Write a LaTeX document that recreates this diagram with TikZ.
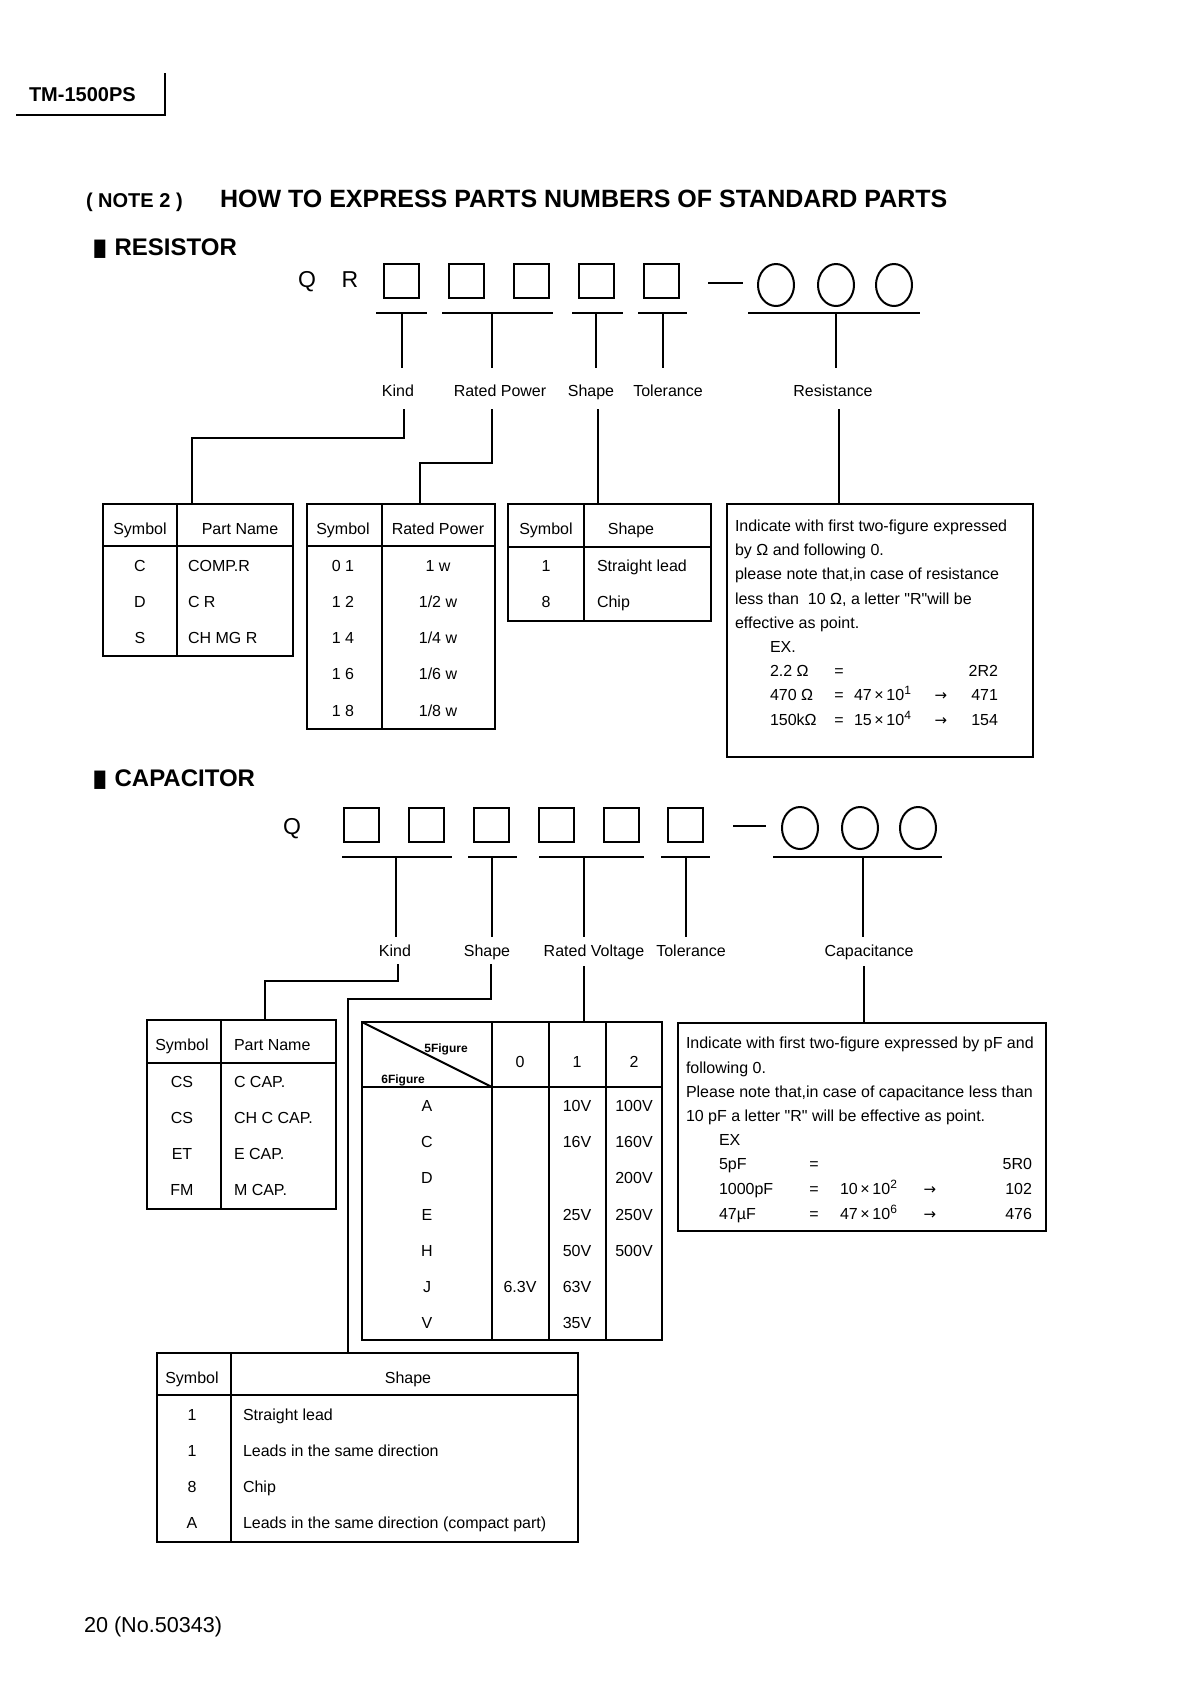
\documentclass[tikz,border=0pt]{standalone}
\usepackage{fontspec}
\usepackage{graphicx}
\setmainfont{Liberation Sans}
\newfontfamily\dvsans{DejaVu Sans}
\usetikzlibrary{shapes.geometric}
\newcommand{\arr}{{\dvsans\fontsize{7.5}{9}\selectfont →}}
\newcommand{\tms}{\,×\,}
\begin{document}
\begin{tikzpicture}[x=0.5pt,y=-0.5pt,
  every node/.style={inner sep=0pt,outer sep=0pt},
  txt/.style={font=\fontsize{8}{9.6}\selectfont},
  lc/.style={txt,anchor=mid},
  ll/.style={txt,anchor=mid west},
  lr/.style={txt,anchor=mid east},
  fig/.style={font=\bfseries\fontsize{6}{7}\selectfont,anchor=mid},
  codebox/.style={draw,line width=1pt,minimum width=17.5pt,minimum height=17pt},
  codecirc/.style={draw,ellipse,line width=1pt,minimum width=18pt,minimum height=21pt},
  codeletter/.style={font=\fontsize{11.5}{13}\selectfont,anchor=mid},
  tbl/.style={draw,line width=1.2pt,anchor=north west},
  rule/.style={line width=1.2pt},
  conn/.style={line width=1pt},
  head/.style={font=\bfseries\fontsize{12}{14}\selectfont,anchor=mid west}
]
\useasboundingbox (0,0) rectangle (1191,1683);

% ---------- page header ----------
\node[font=\bfseries\fontsize{10}{12}\selectfont,anchor=mid west] (model) at (29,96) {TM-1500PS};
\coordinate (h1) at (16,115); \coordinate (h2) at (165,115); \coordinate (h3) at (165,73);
\draw[line width=1pt] (h1) -- (h2) -- (h3);

\node[font=\bfseries\fontsize{10}{12}\selectfont,anchor=mid west] (note) at (86,202) {( NOTE 2 )};
\node[font=\bfseries\fontsize{12.5}{15}\selectfont,anchor=mid west] (title) at (220,202) {HOW TO EXPRESS PARTS NUMBERS OF STANDARD PARTS};

% ================= RESISTOR =================
\node[head] (hres) at (93,250) {\scalebox{0.6}[1.0]{\dvsans ■}\hspace{4pt}RESISTOR};

\node[codeletter] (rq) at (307,282) {Q};
\node[codeletter] (rr) at (350,282) {R};
\node[codebox] (rb1) at (401.5,281) {};
\node[codebox] (rb2) at (466,281) {};
\node[codebox] (rb3) at (531,281) {};
\node[codebox] (rb4) at (596.5,281) {};
\node[codebox] (rb5) at (661,281) {};
\coordinate (rda) at (708,283); \coordinate (rdb) at (743,283);
\draw[line width=1pt] (rda) -- (rdb);
\node[codecirc] (rc1) at (776,285) {};
\node[codecirc] (rc2) at (836,285) {};
\node[codecirc] (rc3) at (894,285) {};

% bars
\draw[rule] (376,313) -- (427,313);
\draw[rule] (442,313) -- (553,313);
\draw[rule] (572,313) -- (623,313);
\draw[rule] (638,313) -- (687,313);
\draw[rule] (748,313) -- (920,313);

% labels
\node[lc] (rlkind) at (398,391) {Kind};
\node[lc] (rlpow) at (500,391) {Rated Power};
\node[lc] (rlshape) at (591,391) {Shape};
\node[lc] (rltol) at (668,391) {Tolerance};
\node[lc] (rlres) at (833,391) {Resistance};

% upper drops
\coordinate (ru1) at (402,313); \coordinate (ru1e) at (402,368);
\coordinate (ru2) at (492,313); \coordinate (ru2e) at (492,368);
\coordinate (ru3) at (596,313); \coordinate (ru3e) at (596,368);
\coordinate (ru4) at (663,313); \coordinate (ru4e) at (663,368);
\coordinate (ru5) at (836,313); \coordinate (ru5e) at (836,368);
\draw[conn] (ru1) -- (ru1e);
\draw[conn] (ru2) -- (ru2e);
\draw[conn] (ru3) -- (ru3e);
\draw[conn] (ru4) -- (ru4e);
\draw[conn] (ru5) -- (ru5e);

% tables
\node[tbl,minimum width=95pt,minimum height=76pt] (rkt) at (103,504) {};
\draw[rule] (177,504) -- (177,656);
\draw[rule] (103,546) -- (293,546);
\node[lc] (rkh1) at (140,529) {Symbol};
\node[lc] (rkh2) at (240,529) {Part Name};
\node[lc] (rk1a) at (140,566) {C}; \node[ll] (rk1b) at (188,566) {COMP.R};
\node[lc] (rk2a) at (140,602) {D}; \node[ll] (rk2b) at (188,602) {C R};
\node[lc] (rk3a) at (140,638) {S}; \node[ll] (rk3b) at (188,638) {CH MG R};

\node[tbl,minimum width=94pt,minimum height=112.5pt] (rpt) at (307,504) {};
\draw[rule] (382,504) -- (382,729);
\draw[rule] (307,546) -- (495,546);
\node[lc] (rph1) at (343,529) {Symbol};
\node[lc] (rph2) at (438,529) {Rated Power};
\node[lc] (rp1a) at (343,566) {0 1}; \node[lc] (rp1b) at (438,566) {1 w};
\node[lc] (rp2a) at (343,602) {1 2}; \node[lc] (rp2b) at (438,602) {1/2 w};
\node[lc] (rp3a) at (343,638) {1 4}; \node[lc] (rp3b) at (438,638) {1/4 w};
\node[lc] (rp4a) at (343,674) {1 6}; \node[lc] (rp4b) at (438,674) {1/6 w};
\node[lc] (rp5a) at (343,711) {1 8}; \node[lc] (rp5b) at (438,711) {1/8 w};

\node[tbl,minimum width=101.5pt,minimum height=58.5pt] (rst) at (508,504) {};
\draw[rule] (584,504) -- (584,621);
\draw[rule] (508,547) -- (711,547);
\node[lc] (rsh1) at (546,529) {Symbol};
\node[lc] (rsh2) at (631,529) {Shape};
\node[lc] (rs1a) at (546,566) {1}; \node[ll] (rs1b) at (597,566) {Straight lead};
\node[lc] (rs2a) at (546,602) {8}; \node[ll] (rs2b) at (597,602) {Chip};

\node[tbl,minimum width=153pt,minimum height=126.5pt] (rrt) at (727,504) {};
\node[ll] (rr1) at (735,526) {Indicate with first two-figure expressed};
\node[ll] (rr2) at (735,550) {by Ω and following 0.};
\node[ll] (rr3) at (735,574) {please note that,in case of resistance};
\node[ll] (rr4) at (735,599) {less than \ 10 Ω, a letter \textquotedbl R\textquotedbl will be};
\node[ll] (rr5) at (735,623) {effective as point.};
\node[ll] (rr6) at (770,647) {EX.};
\node[ll] (rr7a) at (770,671) {2.2 Ω}; \node[lc] (rr7b) at (839,671) {=}; \node[lr] (rr7c) at (998,671) {2R2};
\node[ll] (rr8a) at (770,695) {470 Ω}; \node[lc] (rr8b) at (839,695) {=}; \node[ll] (rr8c) at (854,695) {47\tms 10\textsuperscript{1}}; \node[lc] (rr8d) at (941,695) {\arr}; \node[lr] (rr8e) at (998,695) {471};
\node[ll] (rr9a) at (770,720) {150kΩ}; \node[lc] (rr9b) at (839,720) {=}; \node[ll] (rr9c) at (854,720) {15\tms 10\textsuperscript{4}}; \node[lc] (rr9d) at (941,720) {\arr}; \node[lr] (rr9e) at (998,720) {154};

% lower connectors
\coordinate (rl1) at (404,409); \coordinate (rl1b) at (404,438); \coordinate (rl1c) at (192,438);
\draw[conn] (rl1) -- (rl1b) -- (rl1c) -- (rl1c |- rkt.north);
\coordinate (rl2) at (492,409); \coordinate (rl2b) at (492,463); \coordinate (rl2c) at (420,463);
\draw[conn] (rl2) -- (rl2b) -- (rl2c) -- (rl2c |- rpt.north);
\coordinate (rl3) at (598,409);
\draw[conn] (rl3) -- (rl3 |- rst.north);
\coordinate (rl5) at (839,409);
\draw[conn] (rl5) -- (rl5 |- rrt.north);

% ================= CAPACITOR =================
\node[head] (hcap) at (93,781) {\scalebox{0.6}[1.0]{\dvsans ■}\hspace{4pt}CAPACITOR};

\node[codeletter] (cq) at (292,829) {Q};
\node[codebox] (cb1) at (361,825) {};
\node[codebox] (cb2) at (426,825) {};
\node[codebox] (cb3) at (491,825) {};
\node[codebox] (cb4) at (556,825) {};
\node[codebox] (cb5) at (621,825) {};
\node[codebox] (cb6) at (685,825) {};
\coordinate (cda) at (733,826); \coordinate (cdb) at (766,826);
\draw[line width=1pt] (cda) -- (cdb);
\node[codecirc] (cc1) at (800,828) {};
\node[codecirc] (cc2) at (860,828) {};
\node[codecirc] (cc3) at (918,828) {};

\draw[rule] (342,857) -- (452,857);
\draw[rule] (468,857) -- (517,857);
\draw[rule] (539,857) -- (644,857);
\draw[rule] (661,857) -- (710,857);
\draw[rule] (773,857) -- (942,857);

\node[lc] (clkind) at (395,951) {Kind};
\node[lc] (clshape) at (487,951) {Shape};
\node[lc] (clvolt) at (594,951) {Rated Voltage};
\node[lc] (cltol) at (691,951) {Tolerance};
\node[lc] (clcap) at (869,951) {Capacitance};

\coordinate (cu1) at (396,857); \coordinate (cu1e) at (396,937);
\coordinate (cu2) at (492,857); \coordinate (cu2e) at (492,937);
\coordinate (cu3) at (584,857); \coordinate (cu3e) at (584,937);
\coordinate (cu4) at (686,857); \coordinate (cu4e) at (686,937);
\coordinate (cu5) at (863,857); \coordinate (cu5e) at (863,937);
\draw[conn] (cu1) -- (cu1e);
\draw[conn] (cu2) -- (cu2e);
\draw[conn] (cu3) -- (cu3e);
\draw[conn] (cu4) -- (cu4e);
\draw[conn] (cu5) -- (cu5e);

% kind table
\node[tbl,minimum width=94.5pt,minimum height=94.5pt] (ckt) at (147,1020) {};
\draw[rule] (221,1020) -- (221,1209);
\draw[rule] (147,1063) -- (336,1063);
\node[lc] (ckh1) at (182,1045) {Symbol};
\node[ll] (ckh2) at (234,1045) {Part Name};
\node[lc] (ck1a) at (182,1082) {CS}; \node[ll] (ck1b) at (234,1082) {C CAP.};
\node[lc] (ck2a) at (182,1118) {CS}; \node[ll] (ck2b) at (234,1118) {CH C CAP.};
\node[lc] (ck3a) at (182,1154) {ET}; \node[ll] (ck3b) at (234,1154) {E CAP.};
\node[lc] (ck4a) at (182,1190) {FM}; \node[ll] (ck4b) at (234,1190) {M CAP.};

% voltage table
\node[tbl,minimum width=150pt,minimum height=159pt] (cvt) at (362,1022) {};
\draw[rule] (492,1022) -- (492,1340);
\draw[rule] (549,1022) -- (549,1340);
\draw[rule] (606,1022) -- (606,1340);
\draw[rule] (362,1087) -- (662,1087);
\draw[line width=1pt] (362,1022) -- (492,1087);
\node[fig] (cv5f) at (446,1047) {5Figure};
\node[fig] (cv6f) at (403,1078) {6Figure};
\node[lc] (cvh0) at (520,1062) {0};
\node[lc] (cvh1) at (577,1062) {1};
\node[lc] (cvh2) at (634,1062) {2};
\node[lc] (cvA) at (427,1106) {A}; \node[lc] (cvA1) at (577,1106) {10V}; \node[lc] (cvA2) at (634,1106) {100V};
\node[lc] (cvC) at (427,1142) {C}; \node[lc] (cvC1) at (577,1142) {16V}; \node[lc] (cvC2) at (634,1142) {160V};
\node[lc] (cvD) at (427,1178) {D}; \node[lc] (cvD2) at (634,1178) {200V};
\node[lc] (cvE) at (427,1215) {E}; \node[lc] (cvE1) at (577,1215) {25V}; \node[lc] (cvE2) at (634,1215) {250V};
\node[lc] (cvH) at (427,1251) {H}; \node[lc] (cvH1) at (577,1251) {50V}; \node[lc] (cvH2) at (634,1251) {500V};
\node[lc] (cvJ) at (427,1287) {J}; \node[lc] (cvJ0) at (520,1287) {6.3V}; \node[lc] (cvJ1) at (577,1287) {63V};
\node[lc] (cvV) at (427,1323) {V}; \node[lc] (cvV1) at (577,1323) {35V};

% capacitance box
\node[tbl,minimum width=184pt,minimum height=104pt] (cct) at (678,1023) {};
\node[ll] (cc1t) at (686,1043) {Indicate with first two-figure expressed by pF and};
\node[ll] (cc2t) at (686,1068) {following 0.};
\node[ll] (cc3t) at (686,1092) {Please note that,in case of capacitance less than};
\node[ll] (cc4t) at (686,1116) {10 pF a letter \textquotedbl R\textquotedbl{} will be effective as point.};
\node[ll] (cc5t) at (719,1140) {EX};
\node[ll] (cc6a) at (719,1164) {5pF}; \node[lc] (cc6b) at (814,1164) {=}; \node[lr] (cc6c) at (1032,1164) {5R0};
\node[ll] (cc7a) at (719,1189) {1000pF}; \node[lc] (cc7b) at (814,1189) {=}; \node[ll] (cc7c) at (840,1189) {10\tms 10\textsuperscript{2}}; \node[lc] (cc7d) at (930,1189) {\arr}; \node[lr] (cc7e) at (1032,1189) {102};
\node[ll] (cc8a) at (719,1214) {47µF}; \node[lc] (cc8b) at (814,1214) {=}; \node[ll] (cc8c) at (840,1214) {47\tms 10\textsuperscript{6}}; \node[lc] (cc8d) at (930,1214) {\arr}; \node[lr] (cc8e) at (1032,1214) {476};

% shape table
\node[tbl,minimum width=210.5pt,minimum height=94.5pt] (cst) at (157,1353) {};
\draw[rule] (231,1353) -- (231,1542);
\draw[rule] (157,1395) -- (578,1395);
\node[lc] (csh1) at (192,1378) {Symbol};
\node[lc] (csh2) at (408,1378) {Shape};
\node[lc] (cs1a) at (192,1415) {1}; \node[ll] (cs1b) at (243,1415) {Straight lead};
\node[lc] (cs2a) at (192,1451) {1}; \node[ll] (cs2b) at (243,1451) {Leads in the same direction};
\node[lc] (cs3a) at (192,1487) {8}; \node[ll] (cs3b) at (243,1487) {Chip};
\node[lc] (cs4a) at (192,1523) {A}; \node[ll] (cs4b) at (243,1523) {Leads in the same direction (compact part)};

% lower connectors
\coordinate (cl1) at (398,964); \coordinate (cl1b) at (398,981); \coordinate (cl1c) at (265,981);
\draw[conn] (cl1) -- (cl1b) -- (cl1c) -- (cl1c |- ckt.north);
\coordinate (cl2) at (491,964); \coordinate (cl2b) at (491,999); \coordinate (cl2c) at (348,999);
\draw[conn] (cl2) -- (cl2b) -- (cl2c) -- (cl2c |- cst.north);
\coordinate (cl3) at (584,966);
\draw[conn] (cl3) -- (cl3 |- cvt.north);
\coordinate (cl5) at (864,966);
\draw[conn] (cl5) -- (cl5 |- cct.north);

% footer
\node[font=\fontsize{10.8}{13}\selectfont,anchor=mid west] (footer) at (84,1627) {20 (No.50343)};
\end{tikzpicture}
\end{document}
